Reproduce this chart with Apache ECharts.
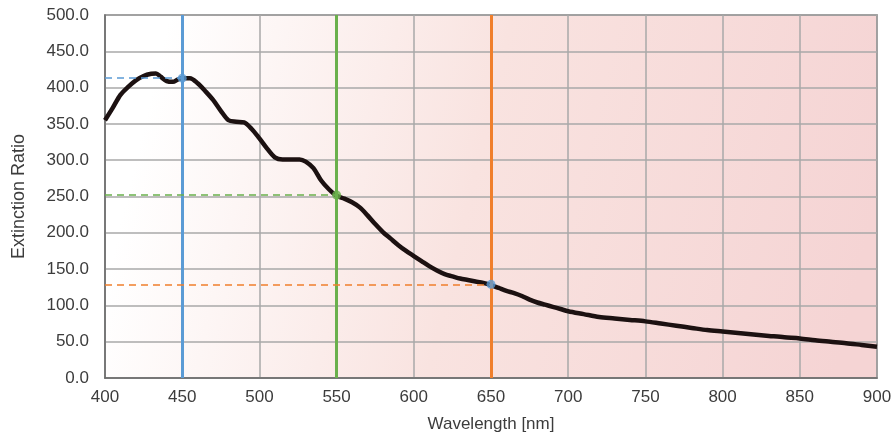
<!DOCTYPE html>
<html>
<head>
<meta charset="utf-8">
<script src="https://cdn.jsdelivr.net/npm/echarts@6/dist/echarts.min.js"></script>
<style>
  html, body { margin: 0; padding: 0; background: #fff; }
  #chart { width: 891px; height: 439px; }
</style>
</head>
<body>
<div id="chart"></div>
<script>
// wavelength [nm] and extinction ratio
const wavelengths = [400, 405, 410, 415, 420, 425, 430, 433, 436, 440, 444, 447, 450, 455, 460, 465, 470, 475, 480, 485,
    490, 495, 500, 505, 510, 515, 520, 526, 530, 535, 540, 545, 550, 555, 560, 565, 570, 575, 580, 585,
    590, 595, 600, 605, 610, 615, 620, 625, 630, 635, 640, 645, 650, 655, 660, 665, 670, 675, 680, 685,
    690, 695, 700, 710, 720, 730, 740, 750, 760, 770, 780, 790, 800, 810, 820, 830, 840, 850, 860, 870,
    880, 890, 900];
const ratios = [355, 372, 390, 401, 410, 416, 419, 419.5, 415, 409, 408, 411, 413, 413, 406, 395, 383, 368, 355, 353,
    352, 343, 330, 316, 304, 301, 301, 301, 298, 289, 272, 260, 251, 247, 242, 235, 224, 212, 201, 192,
    183, 175, 168, 161, 154, 148, 143, 140, 137, 135, 133, 131, 128, 124, 120, 117, 113, 108, 104, 101,
    98, 95, 92, 88, 84, 82, 80, 78, 75, 72, 69, 66, 64, 62, 60, 58, 56, 54.5, 52, 50,
    48, 45.5, 43];

// marker wavelengths, their values and colours
const markerNm = [450, 550, 650];
const markerValues = [413, 252, 129];
const lineColors = ['#5b9bd5', '#6ab04c', '#f07f2c'];
const dotColors = ['#5b9bd5', '#6ab04c', '#5b9bd5'];

const xTicks = { min: 400, max: 900, interval: 50 };
const yTicks = { min: 0, max: 500, interval: 50 };

const chart = echarts.init(document.getElementById('chart'));

const curve = wavelengths.map((w, i) => [w, ratios[i]]);

const markLines = [];
markerNm.forEach((nm, i) => {
    markLines.push({
        xAxis: nm,
        lineStyle: { color: lineColors[i], width: 3, type: 'solid' }
    });
    markLines.push([
        { coord: [xTicks.min, markerValues[i]], lineStyle: { color: lineColors[i], width: 1.5, type: [7, 5] } },
        { coord: [nm, markerValues[i]] }
    ]);
});

const labelFont = { color: '#3c3c3c', fontSize: 17, fontFamily: 'Liberation Sans, Arial, sans-serif' };

chart.setOption({
    animation: false,
    grid: {
        left: 105, right: 14, top: 15, bottom: 61,
        containLabel: false,
        outerBoundsMode: 'none',
        show: true,
        borderColor: '#6a6a6a',
        borderWidth: 1.5,
        backgroundColor: new echarts.graphic.LinearGradient(0, 0, 1, 0.5, [
            { offset: 0, color: '#ffffff' },
            { offset: 0.08, color: '#ffffff' },
            { offset: 0.5, color: '#f9e3e0' },
            { offset: 1, color: '#f5d4d4' }
        ])
    },
    xAxis: {
        type: 'value',
        min: xTicks.min, max: xTicks.max, interval: xTicks.interval,
        name: 'Wavelength [nm]',
        nameLocation: 'middle',
        nameGap: 38,
        nameTextStyle: labelFont,
        axisLine: { show: true, lineStyle: { color: '#6a6a6a', width: 1.5 } },
        axisTick: { show: false },
        axisLabel: { ...labelFont, margin: 11 },
        splitLine: { show: true, lineStyle: { color: '#a8a8a8', width: 1.5 } }
    },
    yAxis: {
        type: 'value',
        min: yTicks.min, max: yTicks.max, interval: yTicks.interval,
        name: 'Extinction Ratio',
        nameLocation: 'middle',
        nameGap: 77,
        nameTextStyle: { ...labelFont, fontSize: 18 },
        axisLine: { show: true, lineStyle: { color: '#6a6a6a', width: 1.5 } },
        axisTick: { show: false },
        axisLabel: { ...labelFont, margin: 16, formatter: v => v.toFixed(1) },
        splitLine: { show: true, lineStyle: { color: '#a8a8a8', width: 1.5 } }
    },
    series: [
        {
            type: 'line',
            data: curve,
            showSymbol: false,
            smooth: 0.3,
            lineStyle: { color: '#1c1111', width: 4.5 },
            markLine: {
                silent: true,
                symbol: 'none',
                label: { show: false },
                data: markLines
            },
            z: 3
        },
        {
            type: 'scatter',
            data: markerNm.map((nm, i) => ({
                value: [nm, markerValues[i]],
                itemStyle: { color: dotColors[i] }
            })),
            symbolSize: 9,
            z: 5
        }
    ]
});
</script>
</body>
</html>
